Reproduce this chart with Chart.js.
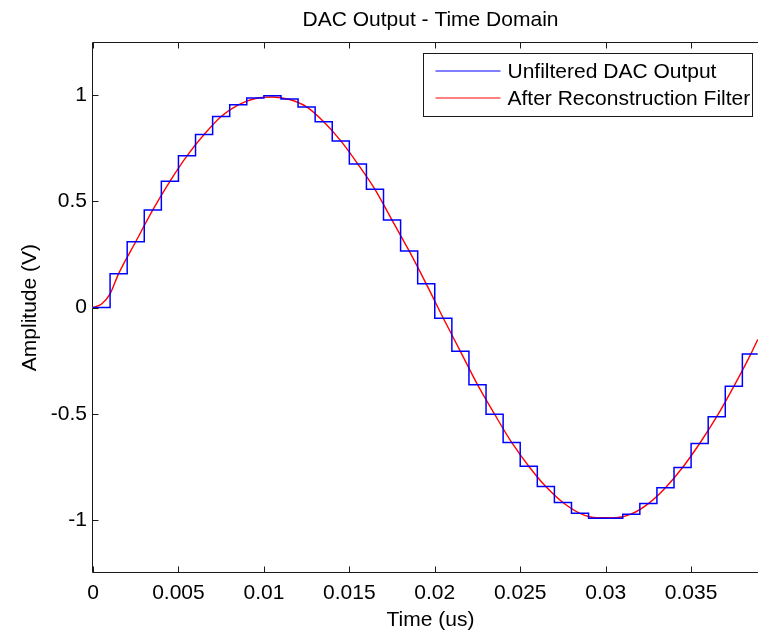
<!DOCTYPE html>
<html>
<head>
<meta charset="utf-8">
<title>DAC Output - Time Domain</title>
<script src="https://cdn.jsdelivr.net/npm/chart.js@4.4.1/dist/chart.umd.min.js"></script>
<style>
  html, body { margin: 0; padding: 0; background: #fff; overflow: hidden; }
  canvas { display: block; }
</style>
</head>
<body>
<canvas id="DacChart" width="770" height="631"></canvas>
<script>
// held DAC samples: start time (us) and level (V), last point closes the final step
var dacTimes = [0, 0.001, 0.002, 0.003, 0.004, 0.005, 0.006, 0.007, 0.008, 0.009,
  0.010, 0.011, 0.012, 0.013, 0.014, 0.015, 0.016, 0.017, 0.018, 0.019,
  0.020, 0.021, 0.022, 0.023, 0.024, 0.025, 0.026, 0.027, 0.028, 0.029,
  0.030, 0.031, 0.032, 0.033, 0.034, 0.035, 0.036, 0.037, 0.038, 0.0389];
var dacLevels = [0, 0.16, 0.31, 0.46, 0.595, 0.715, 0.815, 0.9, 0.955, 0.987,
  0.998, 0.983, 0.945, 0.875, 0.785, 0.676, 0.557, 0.412, 0.267, 0.112,
  -0.05, -0.206, -0.363, -0.502, -0.635, -0.747, -0.843, -0.918, -0.969, -0.992,
  -0.992, -0.973, -0.923, -0.848, -0.753, -0.64, -0.514, -0.371, -0.218, -0.218];

// reconstruction filter output
var filterTimes = [0, 0.0005, 0.001, 0.0015, 0.0025, 0.0035, 0.0045, 0.0055, 0.0065, 0.0075,
  0.0085, 0.0095, 0.0105, 0.0115, 0.0125, 0.0135, 0.0145, 0.0155, 0.0165, 0.0175,
  0.0185, 0.0195, 0.0205, 0.0215, 0.0225, 0.0235, 0.0245, 0.0255, 0.0265, 0.0275,
  0.0285, 0.0295, 0.0305, 0.0315, 0.0325, 0.0335, 0.0345, 0.0355, 0.0365, 0.0375,
  0.0385, 0.0389];
var filterLevels = [0, 0.017, 0.065, 0.16, 0.31, 0.46, 0.595, 0.715, 0.815, 0.9,
  0.955, 0.985, 0.992, 0.98, 0.945, 0.875, 0.785, 0.676, 0.557, 0.412,
  0.267, 0.112, -0.05, -0.206, -0.363, -0.502, -0.635, -0.747, -0.843, -0.918,
  -0.969, -0.99, -0.99, -0.972, -0.923, -0.848, -0.753, -0.64, -0.514, -0.371,
  -0.218, -0.15];

var xTicks = [0, 0.005, 0.01, 0.015, 0.02, 0.025, 0.03, 0.035];
var yTicks = [-1, -0.5, 0, 0.5, 1];

var seriesNames = ["Unfiltered DAC Output", "After Reconstruction Filter"];
var seriesColors = ["#0000ff", "#ff0000"];

const FONT = "'Liberation Sans', Arial, Helvetica, sans-serif";

function toPoints(xs, ys) {
  return xs.map((x, i) => ({ x: x, y: ys[i] }));
}

// matlab style box with inward ticks on all four sides
const boxPlugin = {
  id: "matlabBox",
  afterDatasetsDraw(chart) {
    const ctx = chart.ctx;
    const a = chart.chartArea;
    const L = Math.round(a.left) - 0.5;
    const R = Math.round(a.right) - 0.5;
    const T = Math.round(a.top) + 0.5;
    const B = Math.round(a.bottom) - 0.5;
    const len = 6;
    ctx.save();
    ctx.strokeStyle = "#1a1a1a";
    ctx.lineWidth = 1;
    ctx.beginPath();
    ctx.rect(L, T, R - L, B - T);
    chart.scales.x.ticks.forEach((t) => {
      const px = Math.round(chart.scales.x.getPixelForValue(t.value)) + 0.5;
      ctx.moveTo(px, B); ctx.lineTo(px, B - len);
      ctx.moveTo(px, T); ctx.lineTo(px, T + len);
    });
    chart.scales.y.ticks.forEach((t) => {
      const py = Math.round(chart.scales.y.getPixelForValue(t.value)) + 0.5;
      ctx.moveTo(L, py); ctx.lineTo(L + len, py);
      ctx.moveTo(R, py); ctx.lineTo(R - len, py);
    });
    ctx.stroke();
    ctx.restore();
  },
  afterDraw(chart) {
    // legend box in the upper right corner of the axes
    const ctx = chart.ctx;
    const a = chart.chartArea;
    const right = Math.round(a.right) - 15.5;
    const left = right - 329;
    const top = Math.round(a.top) + 11.5;
    const bottom = top + 63;
    ctx.save();
    ctx.fillStyle = "#fff";
    ctx.fillRect(left, top, right - left, bottom - top);
    ctx.strokeStyle = "#1a1a1a";
    ctx.lineWidth = 1;
    ctx.strokeRect(left, top, right - left, bottom - top);
    ctx.font = "21px " + FONT;
    ctx.textBaseline = "middle";
    ctx.textAlign = "left";
    chart.data.datasets.forEach((ds, i) => {
      const y = top + 17.5 + i * 27;
      ctx.strokeStyle = ds.borderColor;
      ctx.beginPath();
      ctx.moveTo(left + 12, y);
      ctx.lineTo(left + 77, y);
      ctx.stroke();
      ctx.fillStyle = "#000";
      ctx.fillText(ds.label, left + 84, y + 1);
    });
    ctx.restore();
  },
};

const data_Dac = {
  datasets: [
    {
      label: seriesNames[0],
      data: toPoints(dacTimes, dacLevels),
      borderColor: seriesColors[0],
      backgroundColor: seriesColors[0],
      borderWidth: 1.5,
      stepped: true,
      pointRadius: 0,
      fill: false,
    },
    {
      label: seriesNames[1],
      data: toPoints(filterTimes, filterLevels),
      borderColor: seriesColors[1],
      backgroundColor: seriesColors[1],
      borderWidth: 1.4,
      cubicInterpolationMode: "monotone",
      pointRadius: 0,
      fill: false,
    },
  ],
};

const config_Dac = {
  type: "line",
  data: data_Dac,
  plugins: [boxPlugin],
  options: {
    responsive: false,
    animation: false,
    devicePixelRatio: 1,
    layout: { padding: { left: 0, right: 2, top: 0, bottom: 0 } },
    scales: {
      x: {
        type: "linear",
        min: 0,
        max: 0.0395,
        afterBuildTicks: (s) => { s.ticks = xTicks.map((v) => ({ value: v })); },
        afterFit: (s) => { s.height = 58; },
        grid: { display: false, drawTicks: false },
        border: { display: false },
        ticks: {
          padding: 8,
          color: "#000",
          font: { family: FONT, size: 21 },
          callback: (v) => String(v),
        },
        title: {
          display: true,
          text: "Time (us)",
          color: "#000",
          font: { family: FONT, size: 21 },
          padding: { top: 0, bottom: -2 },
        },
      },
      y: {
        type: "linear",
        min: -1.25,
        max: 1.25,
        afterBuildTicks: (s) => { s.ticks = yTicks.map((v) => ({ value: v })); },
        afterFit: (s) => { s.width = 93; },
        grid: { display: false, drawTicks: false },
        border: { display: false },
        ticks: {
          padding: 6,
          color: "#000",
          font: { family: FONT, size: 21 },
          callback: (v) => String(v),
        },
        title: {
          display: true,
          text: "Amplitude (V)",
          color: "#000",
          font: { family: FONT, size: 21 },
          padding: { top: 18, bottom: 0 },
        },
      },
    },
    plugins: {
      title: {
        display: true,
        text: "DAC Output - Time Domain",
        color: "#000",
        fullSize: false,
        font: { family: FONT, size: 21, weight: "normal" },
        padding: { top: 8, bottom: 9 },
      },
      legend: { display: false },
      tooltip: { enabled: false },
    },
  },
};

const DacChart = new Chart(document.getElementById("DacChart"), config_Dac);
</script>
</body>
</html>
